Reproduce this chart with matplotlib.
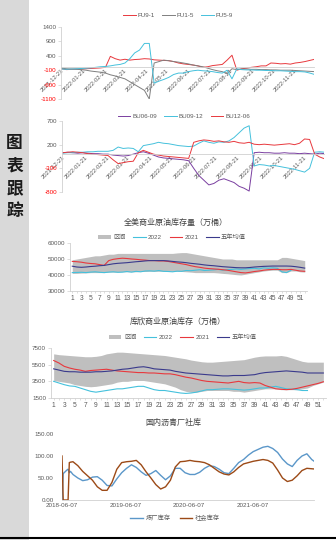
import numpy as np
import pandas as pd
import matplotlib
matplotlib.use("Agg")
import matplotlib.pyplot as plt
import matplotlib.dates as mdates
from matplotlib.lines import Line2D
from matplotlib.patches import Rectangle

plt.rcParams["font.family"] = ["Liberation Sans", "Noto Sans CJK SC"]
plt.rcParams["axes.unicode_minus"] = False

W, H = 336, 540

# ---------------- data ----------------
spread_dates = pd.date_range("2021-12-21", periods=53, freq="7D")

fu9_1 = [-50, -80, -70, -60, -60, -50, -40, -30, -20,
         0, 380, 300, 250, 280, 250, 270, 280, 300,
         290, 260, 250, 240, 230, 200, 150, 120, 100, 80,
         50, 0, 20, 60, 80, 100, 250, 420, -100,
         -50, -30, 0, 20, 50, 50, 150, 140, 120, 130, 110,
         150, 170, 200, 240, 280]
fu1_5 = [-30, -50, -60, -70, -80, -100, -130, -150, -170,
         -200, -260, -300, -350, -400, -500, -600, -700, -800,
         -1100, 150, 200, 250, 230, 200, 180, 150, 120, 80,
         50, 20, -30, -80, -120, -150, -220, -50, -80,
         -60, -60, -70, -70, -80, -80, -90, -90, -100, -100, -100,
         -110, -120, -130, -140, -150]
fu5_9 = [-60, -70, -60, -50, -40, -30, -20, 0, 20,
         30, 50, 80, 100, 150, 300, 500, 600, 830,
         830, -550, -480, -420, -350, -250, -200, -200, -150, -120,
         -100, -120, -130, -150, -180, -200, -100, -400, -50,
         -80, -90, -90, -100, -100, -110, -110, -120, -120, -130, -140,
         -150, -150, -160, -200, -250]

bu06_09 = [30, 40, 30, 20, 30, 20, 10, 10, 0,
           0, -20, -30, -40, -30, 0, 30, 50, 20,
           -20, -60, -80, -90, -100, -110, -120, -140, -300,
           -450, -550, -650, -620, -550, -520, -560, -600, -680, -720, -780,
           30, 40, 30, 30, 20, 20, 30, 20, 20, 10, 20, 10, 0, 20, 10]
bu09_12 = [20, 30, 30, 40, 40, 50, 50, 60, 60,
           60, 80, 150, 120, 130, 120, 50, 180, 200,
           220, 250, 230, 220, 200, 180, 170, 160, 170,
           230, 280, 250, 230, 260, 250, 280, 350, 450, 550, 600,
           -250, -220, -230, -250, -240, -260, -280, -300, -320, -350, -380,
           -300, 40, 50, 40]
bu12_06 = [30, 40, 50, 40, 30, 10, 0, -10, -20,
           -30, -120, -200, -180, -160, -150, 30, 80, 40,
           0, -20, -40, -50, -60, -70, -80, -90, 250,
           280, 300, 290, 270, 280, 260, 250, 270, 240, 230, 250,
           210, 200, 210, 200, 190, 200, 210, 220, 200, 230, 320,
           310, 0, -60, -100]

weeks = np.arange(1, 53)
us_hi = [49500, 50000, 50500, 51000, 51500, 52000, 52000, 52500, 53000, 53000,
         53500, 53500, 53500, 53500, 53500, 53500, 53500, 53500, 53500, 53500,
         53500, 53500, 53500, 53800, 54000, 54000, 53500, 53000, 52500, 52000,
         51500, 51000, 50500, 50000, 50000, 50000, 49500, 49500, 49500, 49500,
         49500, 49500, 49500, 49500, 49500, 49500, 51000, 51000, 50500, 50000,
         49500, 49000]
us_lo = [41000, 41000, 41200, 41300, 41500, 41500, 41500, 41500, 41800, 41800,
         41800, 42000, 42000, 42000, 42000, 42200, 42200, 42300, 42300, 42300,
         42300, 42300, 42300, 42300, 42200, 42000, 41800, 41500, 41500, 41500,
         41500, 41500, 41300, 41000, 40800, 40500, 40200, 40000, 40500, 41000,
         41500, 42000, 42500, 42800, 43000, 43000, 41500, 41500, 42500, 42500,
         42000, 41800]
us_2022 = [41500, 41600, 41700, 41500, 41800, 42000, 41700, 41500, 41800, 42000,
           41700, 41800, 42200, 41800, 42300, 42000, 42500, 42600, 42400, 42800,
           42300, 42200, 42000, 42400, 42300, 42800, 42700, 43000, 43300, 42800,
           43000, 43200, 43500, 43000, 43300, 43500, 43800, 43500, 43800, 44000,
           44200, 43800, 44500, 44200, 44500, 44200, 42000, 41500, 43000]
us_2021 = [48500, 48300, 48000, 47500, 47200, 47000, 46500, 46000, 49000, 49800,
           50200, 50500, 50300, 50000, 49800, 49500, 49300, 49000, 49000, 48800,
           48800, 48500, 48000, 47500, 47000, 46500, 45800, 45200, 44800, 44300,
           44000, 43800, 43600, 43300, 43000, 42500, 42000, 41500, 41300, 41700,
           42200, 42500, 43000, 43300, 43500, 43500, 43300, 43300, 43500, 43000,
           42500, 42300]
us_avg = [45500, 45000, 44800, 45000, 45300, 45500, 45800, 46000, 46500, 47000,
          47300, 47500, 47700, 48000, 48300, 48500, 48800, 49000, 49000, 49000,
          49000, 48800, 48500, 48200, 48000, 47700, 47300, 47000, 46700, 46300,
          46000, 45800, 45500, 45200, 45000, 44800, 44600, 44500, 44500, 44700,
          45000, 45200, 45400, 45500, 45600, 45600, 45600, 45600, 45500, 45200,
          44800, 44300]

cu_hi = [6800, 6700, 6650, 6600, 6550, 6500, 6450, 6450, 6500, 6600,
         6800, 6900, 7000, 7000, 6950, 6900, 6850, 6800, 6750, 6700,
         6650, 6600, 6500, 6400, 6300, 6200, 6050, 5950, 5850, 5800,
         5800, 5850, 5900, 5950, 6000, 6050, 6100, 6250, 6400, 6500,
         6550, 6550, 6550, 6600, 6500, 6300, 6100, 5900, 5800, 5800,
         5800, 5800]
cu_lo = [3600, 3500, 3400, 3300, 3100, 3000, 2900, 2850, 2900, 3000,
         3100, 3200, 3400, 3500, 3500, 3600, 3600, 3600, 3500, 3400,
         3300, 3200, 3000, 2800, 2500, 2300, 2200, 2200, 2300, 2400,
         2400, 2400, 2400, 2400, 2300, 2300, 2200, 2300, 2400, 2500,
         2600, 2600, 2600, 2500, 2500, 2500, 2500, 2600, 2700, 3000,
         3200, 3400]
cu_2022 = [3500, 3300, 3100, 2950, 2900, 2700, 2500, 2300, 2200, 2300,
           2400, 2500, 2600, 2600, 2700, 2800, 2900, 2900, 2700, 2500,
           2400, 2400, 2300, 2200, 2100, 2050, 2100, 2200, 2350, 2500,
           2500, 2550, 2600, 2600, 2550, 2500, 2450, 2500, 2600, 2700,
           2700, 2800, 2900, 2750, 2600, 2550, 2500, 2400, 2400]
cu_2021 = [6000, 5700, 5300, 5100, 4950, 4850, 4700, 4800, 4850, 4900,
           4950, 4850, 4750, 4700, 4650, 4600, 4550, 4550, 4500, 4500,
           4450, 4400, 4400, 4300, 4150, 4000, 3900, 3750, 3600, 3500,
           3450, 3400, 3350, 3300, 3400, 3500, 3350, 3300, 3350, 3300,
           3000, 2800, 2600, 2550, 2500, 2550, 2650, 2800, 2950, 3100,
           3250, 3450]
cu_avg = [5000, 4850, 4700, 4650, 4650, 4600, 4600, 4600, 4650, 4650,
          4700, 4750, 4850, 4950, 5000, 5100, 5200, 5250, 5150, 5000,
          4950, 4900, 4850, 4700, 4600, 4500, 4450, 4400, 4350, 4300,
          4250, 4200, 4150, 4150, 4200, 4200, 4200, 4250, 4300, 4450,
          4550, 4600, 4650, 4700, 4750, 4700, 4650, 4600, 4500, 4500,
          4500, 4500]

asp_dates = list(pd.to_datetime(["2018-06-07", "2018-06-14", "2018-07-05",
                                 "2018-07-12", "2018-07-19", "2018-07-26"]))
asp_dates += list(pd.date_range("2018-08-09", periods=51, freq="28D"))
refinery = [0, 60, 68, 70, 62, 65,
            58, 50, 44, 46, 52, 53, 45, 33, 32, 48,
            62, 72, 80, 74, 64, 56, 60, 67, 56, 46,
            55, 72, 72, 62, 58, 58, 63, 72, 78, 76,
            70, 62, 60, 72, 85, 92, 102, 110, 115, 120,
            122, 117, 108, 93, 82, 76, 90, 100, 105, 92, 84]
social = [100, 0, 0, 0, 85, 86,
          87, 78, 65, 55, 45, 30, 22, 22, 40, 70,
          85, 87, 88, 90, 80, 64, 50, 35, 25, 30,
          45, 75, 87, 88, 90, 88, 87, 85, 80, 72,
          64, 59, 57, 64, 74, 82, 85, 88, 90, 92,
          90, 84, 68, 50, 42, 45, 55, 67, 72, 71, 70]

# ---------------- styling ----------------
RED = "#e8383d"
CYAN = "#45c1dc"
GRAY_L = "#7f7f7f"
PURPLE = "#7a3fa0"
NAVY = "#3a3a8c"
BAND = "#bfbfbf"
BLUE = "#5b97c9"
BROWN = "#9c4a17"
TXT = "#595959"
AX = "#d0d0d0"


def rect(l, t, r, b):
    return [l / W, 1 - b / H, (r - l) / W, (b - t) / H]


def fxy(x, y):
    return (x / W, 1 - y / H)


fig = plt.figure(figsize=(W / 100, H / 100), dpi=100)
fig.patch.set_facecolor("white")

# left side bar
fig.add_artist(Rectangle((0, 0), 29 / W, 1, transform=fig.transFigure,
                         facecolor="#d9d9d9", edgecolor="none", zorder=0))
for i, ch in enumerate("图表跟踪"):
    fig.text(14.5 / W, 1 - (143 + 22.5 * i) / H, ch, fontsize=12,
             fontweight="bold", ha="center", va="center", color="#1a1a1a",
             family=["Noto Sans CJK SC"])
# bottom black line
fig.add_artist(Line2D([0, 1], [1 - 537.5 / H] * 2, transform=fig.transFigure,
                      color="black", lw=1.5))


def base_axis(ax):
    for s in ["top", "right"]:
        ax.spines[s].set_visible(False)
    for s in ["left", "bottom"]:
        ax.spines[s].set_color(AX)
        ax.spines[s].set_linewidth(0.6)
    ax.tick_params(colors=AX, labelcolor=TXT, labelsize=4.5, length=2,
                   width=0.5, pad=1.5)
    ax.patch.set_alpha(0)


def spread_panel(rc, series, ylim, yticks, legend_xy):
    ax = fig.add_axes(rc)
    base_axis(ax)
    for vals, col, lab in series:
        ax.plot(spread_dates, vals, color=col, lw=0.7, label=lab)
    ax.set_xlim(pd.Timestamp("2021-12-20"), pd.Timestamp("2022-12-19"))
    ax.set_ylim(*ylim)
    ax.set_yticks(yticks)
    ax.spines["bottom"].set_position(("data", 0))
    ax.xaxis.set_major_locator(mdates.MonthLocator(bymonthday=21))
    ax.xaxis.set_major_formatter(mdates.DateFormatter("%Y-%m-%d"))
    ax.tick_params(axis="x", labelsize=4.2, pad=0.5, length=0)
    for lbl in ax.get_xticklabels():
        lbl.set_rotation(45)
        lbl.set_ha("right")
        lbl.set_rotation_mode("anchor")
    for lbl, v in zip(ax.get_yticklabels(), yticks):
        lbl.set_color("#ff0000" if v < 0 else TXT)
    ax.legend(loc="center", bbox_to_anchor=fxy(*legend_xy),
              bbox_transform=fig.transFigure, ncol=3, frameon=False,
              fontsize=4.5, handlelength=2.0, columnspacing=1.2,
              handletextpad=0.3, labelcolor=TXT)
    return ax


spread_panel(rect(61, 27, 314, 99),
             [(fu9_1, RED, "FU9-1"), (fu1_5, GRAY_L, "FU1-5"), (fu5_9, CYAN, "FU5-9")],
             (-1100, 1400), [1400, 900, 400, -100, -600, -1100], (178, 15))

spread_panel(rect(62, 121, 324, 192),
             [(bu06_09, PURPLE, "BU06-09"), (bu09_12, CYAN, "BU09-12"), (bu12_06, RED, "BU12-06")],
             (-800, 700), [700, 200, -300, -800], (184, 116))


def stock_panel(rc, lo, hi, y22, y21, avg, ylim, yticks, title, title_xy, legend_xy):
    ax = fig.add_axes(rc)
    base_axis(ax)
    ax.fill_between(weeks, lo, hi, color=BAND, lw=0, label="区间")
    ax.plot(weeks[:len(y22)], y22, color=CYAN, lw=0.8, label="2022")
    ax.plot(weeks, y21, color=RED, lw=0.8, label="2021")
    ax.plot(weeks, avg, color=NAVY, lw=0.8, label="五年均值")
    ax.set_xlim(0.5, 52.5)
    ax.set_ylim(*ylim)
    ax.set_yticks(yticks)
    ax.set_xticks(weeks)
    ax.set_xticklabels([str(w) if w % 2 == 1 else "" for w in weeks])
    ax.tick_params(axis="x", length=1.5, labelsize=4.8)
    fig.text(*fxy(*title_xy), title, fontsize=5.8, ha="center", va="center",
             color="#404040")
    ax.legend(loc="center", bbox_to_anchor=fxy(*legend_xy),
              bbox_transform=fig.transFigure, ncol=4, frameon=False,
              fontsize=4.5, handlelength=2.0, columnspacing=1.2,
              handletextpad=0.4, labelcolor=TXT, handleheight=0.6)
    return ax


stock_panel(rect(70, 243, 307, 291), us_lo, us_hi, us_2022, us_2021, us_avg,
            (30000, 60000), [30000, 40000, 50000, 60000],
            "全美商业原油库存量（万桶）", (176, 223), (172, 237))

stock_panel(rect(51, 348, 326, 398), cu_lo, cu_hi, cu_2022, cu_2021, cu_avg,
            (1500, 7500), [1500, 3500, 5500, 7500],
            "库欣商业原油库存（万桶）", (178, 321), (183, 337))

# asphalt inventory
ax5 = fig.add_axes(rect(62, 434, 314, 500))
base_axis(ax5)
ax5.spines["left"].set_visible(False)
ax5.plot(asp_dates, refinery, color=BLUE, lw=1.0, label="炼厂库存")
ax5.plot(asp_dates, social, color=BROWN, lw=1.0, label="社会库存")
ax5.set_ylim(0, 150)
ax5.set_yticks([0, 50, 100, 150])
ax5.set_yticklabels(["0.00", "50.00", "100.00", "150.00"])
ax5.tick_params(axis="y", length=0, pad=6)
ax5.set_xlim(pd.Timestamp("2018-06-07"), pd.Timestamp("2022-05-25"))
ax5.set_xticks(pd.to_datetime(["2018-06-07", "2019-06-07", "2020-06-07", "2021-06-07"]))
ax5.xaxis.set_major_formatter(mdates.DateFormatter("%Y-%m-%d"))
ax5.tick_params(axis="x", length=0, pad=2)
fig.text(*fxy(173, 423), "国内沥青厂社库", fontsize=5.8, ha="center",
         va="center", color="#404040")
ax5.legend(loc="center", bbox_to_anchor=fxy(175, 518),
           bbox_transform=fig.transFigure, ncol=2, frameon=False,
           fontsize=4.5, handlelength=2.0, columnspacing=1.5,
           handletextpad=0.4, labelcolor=TXT)

fig.savefig("out.png", dpi=100)
